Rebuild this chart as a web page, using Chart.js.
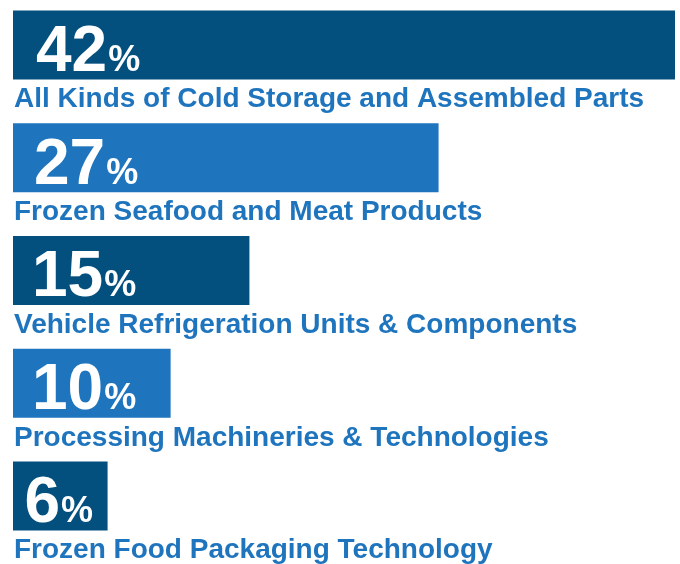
<!DOCTYPE html>
<html><head><meta charset="utf-8">
<script src="https://cdn.jsdelivr.net/npm/chart.js@4/dist/chart.umd.min.js"></script>
<style>html,body{margin:0;padding:0;background:#fff;overflow:hidden}#wrap{width:680px;height:564px}</style>
</head><body><div id="wrap"><canvas id="c" width="680" height="564"></canvas></div>
<script>
const categories = [
  'All Kinds of Cold Storage and Assembled Parts',
  'Frozen Seafood and Meat Products',
  'Vehicle Refrigeration Units & Components',
  'Processing Machineries & Technologies',
  'Frozen Food Packaging Technology'
];
const shares = [42, 27, 15, 10, 6];
const valueLabels = ['42', '27', '15', '10', '6'];

const DARK = '#03507f', LIGHT = '#1f75bd';
const barColors = [DARK, LIGHT, DARK, LIGHT, DARK];
const FONT = '"Liberation Sans", Arial, Helvetica, sans-serif';

const labelPlugin = {
  id: 'barLabels',
  afterDatasetsDraw(chart) {
    const ctx = chart.ctx;
    const meta = chart.getDatasetMeta(0);
    ctx.save();
    meta.data.forEach((bar, i) => {
      const p = bar.getProps(['x', 'y', 'base', 'height'], true);
      const left = Math.min(p.base, p.x), right = Math.max(p.base, p.x);
      const top = p.y - p.height / 2, bottom = p.y + p.height / 2;
      // value
      ctx.fillStyle = '#ffffff';
      ctx.textBaseline = 'alphabetic';
      ctx.textAlign = 'left';
      ctx.font = 'bold 64px ' + FONT;
      const mNum = ctx.measureText(valueLabels[i]);
      ctx.font = 'bold 36px ' + FONT;
      const mPct = ctx.measureText('%');
      const w = mNum.width + mPct.width;
      const off = Math.min(23, (right - left - w) / 2);
      const tx = left + off + mNum.actualBoundingBoxLeft;
      const by = bottom - 8.4;
      ctx.font = 'bold 64px ' + FONT;
      ctx.fillText(valueLabels[i], tx, by);
      ctx.font = 'bold 36px ' + FONT;
      ctx.fillText('%', tx + mNum.width + 1, by);
      // category label
      ctx.fillStyle = LIGHT;
      ctx.font = 'bold 28px ' + FONT;
      ctx.fillText(categories[i], left + 1, bottom + 28);
    });
    ctx.restore();
  }
};

new Chart(document.getElementById('c'), {
  type: 'bar',
  data: {
    labels: categories,
    datasets: [{
      data: shares,
      backgroundColor: barColors,
      borderWidth: 0,
      categoryPercentage: 1,
      barPercentage: 0.61,
      clip: false
    }]
  },
  options: {
    indexAxis: 'y',
    responsive: false,
    animation: false,
    devicePixelRatio: 1,
    layout: { padding: { top: 45, bottom: 68, left: 13, right: 5 } },
    scales: {
      x: { type: 'linear', min: 0, max: 42, display: false },
      y: { type: 'category', offset: false, display: false }
    },
    plugins: { legend: { display: false }, tooltip: { enabled: false } }
  },
  plugins: [labelPlugin]
});
</script>
</body></html>
